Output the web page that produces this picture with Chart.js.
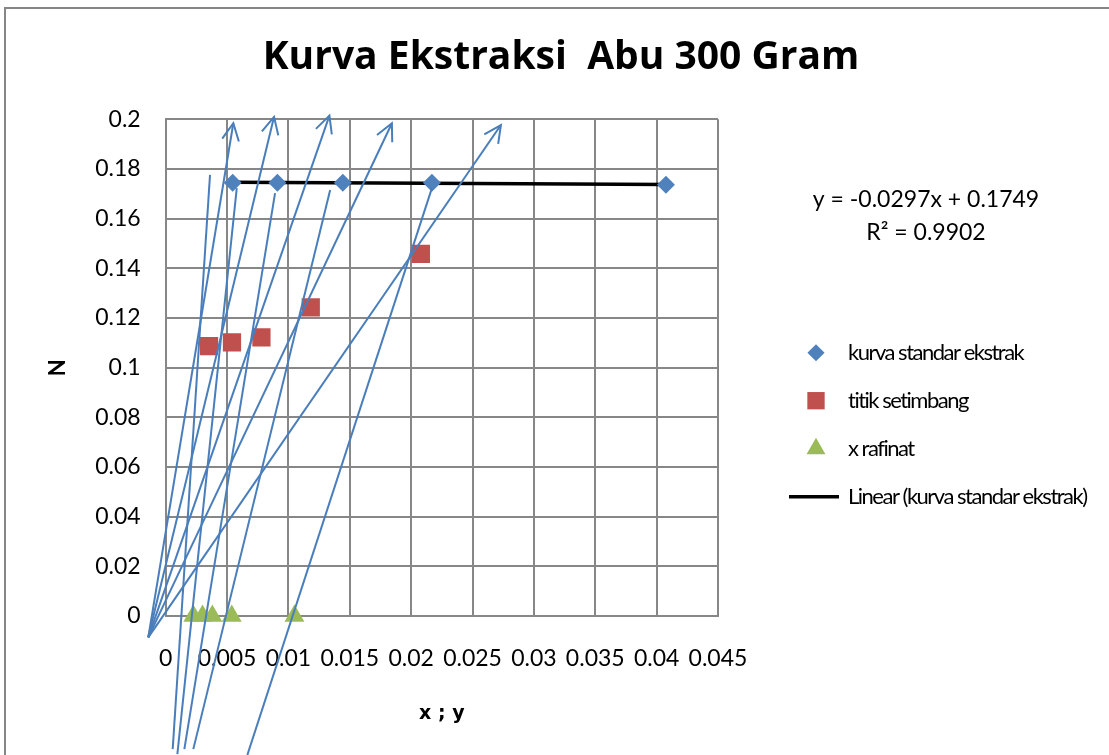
<!DOCTYPE html>
<html>
<head>
<meta charset="utf-8">
<title>Kurva Ekstraksi Abu 300 Gram</title>
<script src="https://cdn.jsdelivr.net/npm/chart.js@4.4.1/dist/chart.umd.min.js"></script>
<style>
    html, body { margin: 0; padding: 0; background: #fff; }
</style>
</head>
<body>
<canvas id="kurva" width="1109" height="755"></canvas>
<script>
var xTicks = [0, 0.005, 0.01, 0.015, 0.02, 0.025, 0.03, 0.035, 0.04, 0.045]
var yTicks = [0, 0.02, 0.04, 0.06, 0.08, 0.1, 0.12, 0.14, 0.16, 0.18, 0.2]

// kurva standar ekstrak
var standarX = [0.00546, 0.0091, 0.01443, 0.02169, 0.04076]
var standarY = [0.1745, 0.1745, 0.1745, 0.1745, 0.1736]

// titik setimbang
var setimbangX = [0.00353, 0.0054, 0.0078, 0.01182, 0.02079]
var setimbangY = [0.1087, 0.1102, 0.1122, 0.1243, 0.1458]

// x rafinat
var rafinatX = [0.00225, 0.0030, 0.0038, 0.00538, 0.01049]
var rafinatY = [0, 0, 0, 0, 0]

// linear (kurva standar ekstrak)
var trendX = [0.00546, 0.04076]
var trendY = [0.1747, 0.1737]

// garis berpanah dari titik kutub
var panahAwalX = -0.00142
var panahAwalY = -0.0086
var panahUjungX = [0.00551, 0.00883, 0.01334, 0.01843, 0.02731]
var panahUjungY = [0.1984, 0.2010, 0.2015, 0.1984, 0.1977]

// garis dari bawah sumbu ke kurva standar
var garisBawahX = [0.00057, 0.00095, 0.00152, 0.00225, 0.00665]
var garisBawahY = [-0.0536, -0.0556, -0.0536, -0.0536, -0.0560]
var garisAtasX = [0.00361, 0.00579, 0.00891, 0.0134, 0.02169]
var garisAtasY = [0.1776, 0.1723, 0.1703, 0.1715, 0.1723]

var persamaan = ['y = -0.0297x + 0.1749', 'R\u00B2 = 0.9902']

Chart.defaults.font.family = 'Lato, "Open Sans", sans-serif'
Chart.defaults.color = '#000'

var warnaGrid = '#878787'
var biru = '#4F81BD'
var garisBiru = '#4A7EBB'

function titik(xs, ys) {
    return xs.map(function(x, i) {
        return { x: x, y: ys[i] }
    })
}

var datasets = []

panahUjungX.forEach(function(x, i) {
    datasets.push({
        label: 'panah',
        data: titik([panahAwalX, x], [panahAwalY, panahUjungY[i]]),
        showLine: true, pointRadius: 0, pointHoverRadius: 0,
        borderColor: garisBiru, borderWidth: 2,
        clip: false, order: 0, panah: true
    })
})

garisAtasX.forEach(function(x, i) {
    datasets.push({
        label: 'garis',
        data: titik([garisBawahX[i], x], [garisBawahY[i], garisAtasY[i]]),
        showLine: true, pointRadius: 0, pointHoverRadius: 0,
        borderColor: garisBiru, borderWidth: 2,
        clip: false, order: 0
    })
})

datasets.push({
    label: 'kurva standar ekstrak',
    data: titik(standarX, standarY),
    pointStyle: 'rectRot', pointRadius: 9, pointBorderWidth: 0,
    backgroundColor: biru, borderColor: biru,
    order: 1, legenda: true
})
datasets.push({
    label: 'titik setimbang',
    data: titik(setimbangX, setimbangY),
    pointStyle: 'rect', pointRadius: 12.9, pointBorderWidth: 0,
    backgroundColor: '#C0504D', borderColor: '#C0504D',
    order: 2, legenda: true
})
datasets.push({
    label: 'x rafinat',
    data: titik(rafinatX, rafinatY),
    pointStyle: 'triangle', pointRadius: 11.5, pointBorderWidth: 0,
    backgroundColor: '#9BBB59', borderColor: '#9BBB59',
    clip: false, order: 3, legenda: true
})
datasets.push({
    label: 'Linear (kurva standar ekstrak)',
    data: titik(trendX, trendY),
    showLine: true, pointRadius: 0, pointHoverRadius: 0,
    borderColor: '#000', borderWidth: 3.5,
    order: 4, legenda: true, garisLegenda: true
})

var hiasan = {
    id: 'hiasan',
    beforeDraw: function(chart) {
        var ctx = chart.ctx
        ctx.save()
        ctx.fillStyle = '#fff'
        ctx.fillRect(0, 0, chart.width, chart.height)
        ctx.strokeStyle = '#868686'
        ctx.lineWidth = 2
        ctx.strokeRect(5, 8, chart.width + 40, chart.height + 40)
        ctx.restore()
    },
    afterDatasetsDraw: function(chart) {
        var ctx = chart.ctx
        ctx.save()
        chart.data.datasets.forEach(function(ds, i) {
            if (!ds.panah) return
            var pts = chart.getDatasetMeta(i).data
            var a = pts[0], b = pts[pts.length - 1]
            var sudut = Math.atan2(b.y - a.y, b.x - a.x)
            ctx.strokeStyle = ds.borderColor
            ctx.lineWidth = 2
            ctx.beginPath()
            ctx.moveTo(b.x - 19 * Math.cos(sudut - 0.46), b.y - 19 * Math.sin(sudut - 0.46))
            ctx.lineTo(b.x, b.y)
            ctx.lineTo(b.x - 19 * Math.cos(sudut + 0.46), b.y - 19 * Math.sin(sudut + 0.46))
            ctx.stroke()
        })
        ctx.restore()
    },
    afterDraw: function(chart) {
        var ctx = chart.ctx
        var area = chart.chartArea
        ctx.save()

        // persamaan garis trend
        ctx.fillStyle = '#000'
        ctx.font = '23px Lato, "Open Sans", sans-serif'
        ctx.textAlign = 'center'
        ctx.textBaseline = 'middle'
        persamaan.forEach(function(t, i) {
            ctx.fillText(t, area.right + 208, 200 + i * 33)
        })

        // legenda
        var kiri = area.right + 98
        var y = 352.7
        ctx.font = '22px Lato, "Open Sans", sans-serif'
        ctx.textAlign = 'left'
        ctx.letterSpacing = '-1.5px'
        chart.data.datasets.forEach(function(ds) {
            if (!ds.legenda) return
            if (ds.garisLegenda) {
                ctx.strokeStyle = ds.borderColor
                ctx.lineWidth = ds.borderWidth
                ctx.beginPath()
                ctx.moveTo(kiri - 27, y)
                ctx.lineTo(kiri + 23, y)
                ctx.stroke()
            } else {
                ctx.fillStyle = ds.backgroundColor
                Chart.helpers.drawPoint(ctx, {
                    pointStyle: ds.pointStyle,
                    radius: ds.pointRadius * 0.95,
                    borderWidth: 0,
                    rotation: 0
                }, kiri, y)
            }
            ctx.fillStyle = '#000'
            ctx.fillText(ds.label, kiri + 32, y)
            y += 48
        })
        ctx.restore()
    }
}

function pasangTicks(daftar) {
    return function(scale) {
        scale.ticks = daftar.map(function(v) {
            return { value: v }
        })
    }
}

var chart = new Chart(document.getElementById('kurva'), {
    type: 'scatter',
    data: { datasets: datasets },
    options: {
        responsive: false,
        animation: false,
        events: [],
        layout: {
            padding: { left: 13, right: 0, top: 0, bottom: 0 }
        },
        plugins: {
            legend: { display: false },
            tooltip: { enabled: false },
            title: {
                display: true,
                text: 'Kurva Ekstraksi  Abu 300 Gram',
                font: { family: '"Open Sans", Lato, sans-serif', size: 39, weight: 'bold' },
                color: '#000',
                padding: { top: 34.2, bottom: 38.3 }
            }
        },
        scales: {
            x: {
                type: 'linear',
                position: 'bottom',
                min: 0,
                max: 0.045,
                afterBuildTicks: pasangTicks(xTicks),
                afterFit: function(scale) { scale.height = 139 },
                ticks: {
                    autoSkip: false,
                    maxRotation: 0,
                    minRotation: 0,
                    padding: 29,
                    font: { size: 23 },
                    callback: function(v) { return String(v) }
                },
                grid: { color: warnaGrid, lineWidth: 2, drawTicks: false },
                border: { color: warnaGrid, width: 2 },
                title: {
                    display: true,
                    text: 'x ; y',
                    font: { family: '"DejaVu Sans", sans-serif', size: 19, weight: 'bold' },
                    padding: { top: 0, bottom: 30 }
                }
            },
            y: {
                type: 'linear',
                position: 'left',
                min: 0,
                max: 0.2,
                afterBuildTicks: pasangTicks(yTicks),
                afterFit: function(scale) { scale.width = 152.7 },
                ticks: {
                    padding: 25,
                    font: { size: 23 },
                    callback: function(v) { return String(v) }
                },
                grid: { color: warnaGrid, lineWidth: 2, drawTicks: false },
                border: { color: warnaGrid, width: 2 },
                title: {
                    display: true,
                    text: 'N',
                    font: { size: 22, weight: 'bold' },
                    padding: { top: 32, bottom: 0 }
                }
            },
            // ruang kosong untuk legenda di kanan
            ruang: {
                type: 'linear',
                axis: 'y',
                position: 'right',
                min: 0,
                max: 1,
                afterFit: function(scale) { scale.width = 391 },
                ticks: { display: false },
                grid: { display: false, drawTicks: false },
                border: { display: false }
            }
        }
    },
    plugins: [hiasan]
})
</script>
</body>
</html>
